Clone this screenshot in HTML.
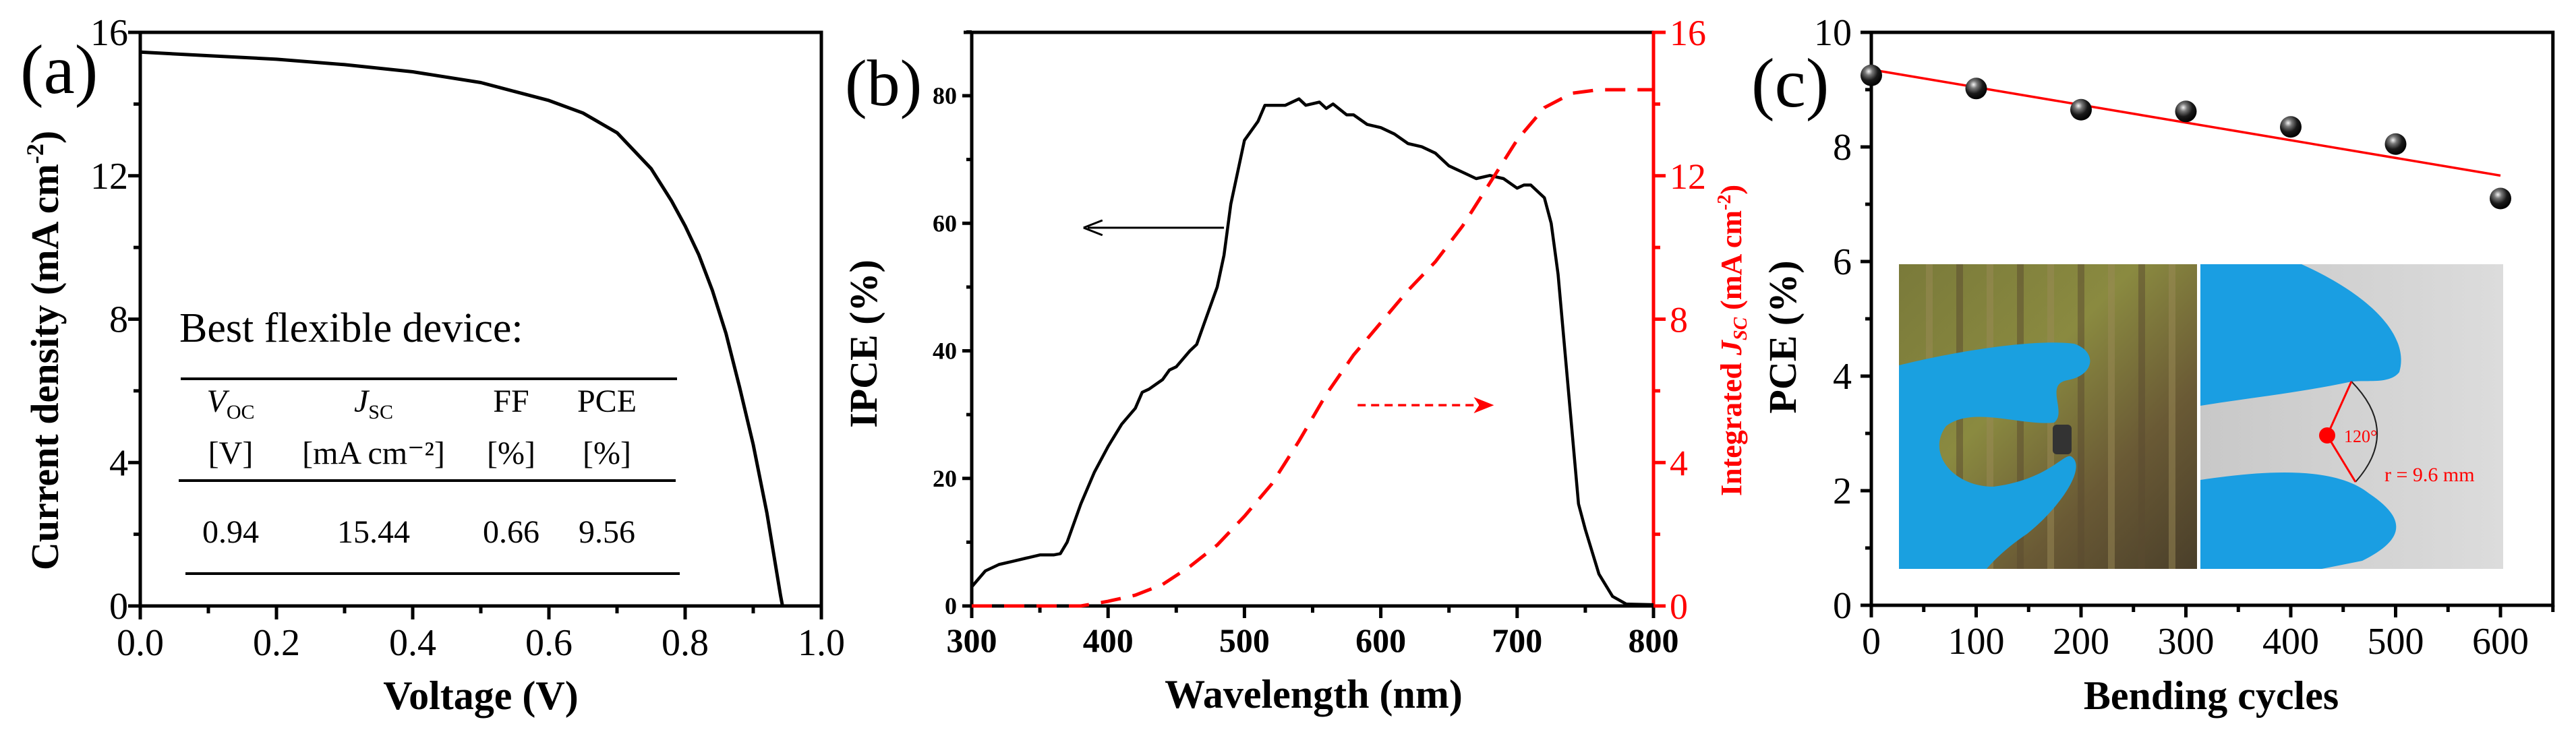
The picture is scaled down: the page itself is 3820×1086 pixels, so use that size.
<!DOCTYPE html>
<html><head><meta charset="utf-8"><style>
html,body{margin:0;padding:0;background:#fff;}
svg{display:block;}
svg text{font-family:"Liberation Serif","Times New Roman",serif;}
</style></head><body>
<svg id="fig" width="3820" height="1086" viewBox="0 0 3820 1086" font-family="Liberation Serif, serif">
<defs>
<radialGradient id="ball" cx="0.38" cy="0.32" r="0.7">
<stop offset="0" stop-color="#f4f4f4"/><stop offset="0.25" stop-color="#777"/><stop offset="0.6" stop-color="#1a1a1a"/><stop offset="1" stop-color="#000"/>
</radialGradient>
<linearGradient id="bamboo" x1="0" y1="0" x2="1" y2="1">
<stop offset="0" stop-color="#7a7a3a"/><stop offset="0.4" stop-color="#8a8a40"/><stop offset="0.7" stop-color="#6a5a35"/><stop offset="1" stop-color="#4a3f2a"/>
</linearGradient>
<linearGradient id="grey" x1="0" y1="0" x2="1" y2="0">
<stop offset="0" stop-color="#c8c8c8"/><stop offset="1" stop-color="#dcdcdc"/>
</linearGradient>
</defs>
<g id="pa"></g>
<g id="pb"></g>
<g id="pc"></g>
</svg>
<script>
// ---------- data ----------
const jvVoltage = [0,0.1,0.2,0.3,0.4,0.5,0.55,0.6,0.65,0.7,0.75,0.78,0.8,0.82,0.84,0.86,0.88,0.9,0.92,0.94,0.943];
const jvCurrent = [15.45,15.35,15.25,15.1,14.9,14.6,14.35,14.1,13.75,13.2,12.2,11.3,10.6,9.8,8.8,7.6,6.1,4.5,2.6,0.3,0];
const aXTicks = ["0.0","0.2","0.4","0.6","0.8","1.0"];
const aYTicks = ["0","4","8","12","16"];
const tableHeads = ["V","J","FF","PCE"];
const tableUnits = ["[V]","[mA cm⁻²]","[%]","[%]"];
const tableValues = ["0.94","15.44","0.66","9.56"];

const wl = [300,310,320,330,340,350,360,365,370,380,390,400,410,420,425,430,440,445,450,460,465,470,480,485,490,500,510,515,525,530,540,545,555,560,565,575,580,590,600,610,620,630,640,650,660,670,680,690,700,705,710,720,725,730,735,740,745,750,760,770,780,800];
const ipce = [3,5.5,6.5,7,7.5,8,8,8.2,10,16,21,25,28.5,31,33.5,34,35.5,37,37.5,40,41,44,50,55,63,73,76,78.5,78.5,78.5,79.5,78.5,79,78,78.7,77,77,75.5,75,74,72.5,72,71,69,68,67,67.5,67,65.5,66,66,64,60,52,40,28,16,12,5,1.5,0.3,0.2];
const intWl = [300,380,400,420,440,460,480,500,520,540,560,580,600,620,640,660,680,700,720,740,760,800];
const intJsc = [0,0,0.13,0.3,0.6,1.1,1.7,2.5,3.4,4.6,5.9,7.0,7.9,8.8,9.6,10.6,11.8,13.0,13.9,14.3,14.4,14.4];
const bXTicks = ["300","400","500","600","700","800"];
const bYTicks = ["0","20","40","60","80"];
const bRTicks = ["0","4","8","12","16"];

const cycles = [0,100,200,300,400,500,600];
const pce = [9.25,9.02,8.65,8.62,8.35,8.05,7.1];
const fitStart = 9.35, fitEnd = 7.5;
const cXTicks = ["0","100","200","300","400","500","600"];
const cYTicks = ["0","2","4","6","8","10"];

// ---------- helpers ----------
const NS="http://www.w3.org/2000/svg";
function mk(parent,tag,attrs,text){const e=document.createElementNS(NS,tag);for(const k in attrs)e.setAttribute(k,attrs[k]);if(text!==undefined)e.textContent=text;parent.appendChild(e);return e;}
function lin(d0,d1,r0,r1){return v=>r0+(v-d0)*(r1-r0)/(d1-d0);}
function path(xs,ys,fx,fy){return xs.map((x,i)=>(i?'L':'M')+fx(x).toFixed(1)+' '+fy(ys[i]).toFixed(1)).join(' ');}

// ---------- panel a ----------
(function(){
const g=document.getElementById('pa');
const L=208,R=1218,T=48,B=899;
const fx=lin(0,1,L,R), fy=lin(0,16,B,T);
let e=mk(g,'rect',{x:L,y:T,width:R-L,height:B-T,fill:'none',stroke:'#000','stroke-width':5});

aXTicks.forEach((t,i)=>{const v=i*0.2,x=fx(v);
 mk(g,'line',{x1:x,y1:B,x2:x,y2:B+20,stroke:'#000','stroke-width':5});
 if(i<5){const xm=fx(v+0.1);mk(g,'line',{x1:xm,y1:B,x2:xm,y2:B+11,stroke:'#000','stroke-width':5});}
 e=mk(g,'text',{x:x,y:972,'font-size':56,'text-anchor':'middle'},t);
 });
aYTicks.forEach((t,i)=>{const v=i*4,y=fy(v);
 mk(g,'line',{x1:L-18,y1:y,x2:L,y2:y,stroke:'#000','stroke-width':5});
 if(i<4){const ym=fy(v+2);mk(g,'line',{x1:L-10,y1:ym,x2:L,y2:ym,stroke:'#000','stroke-width':5});}
 e=mk(g,'text',{x:190,y:y+19,'font-size':56,'text-anchor':'end'},t);
 });
e=mk(g,'path',{d:path(jvVoltage,jvCurrent,fx,fy),fill:'none',stroke:'#000','stroke-width':5,'stroke-linejoin':'round'});

e=mk(g,'text',{x:713,y:1052,'font-size':60,'font-weight':'bold','text-anchor':'middle'},'Voltage (V)');

e=mk(g,'text',{x:0,y:0,'font-size':58,'font-weight':'bold','text-anchor':'middle',transform:'translate(86,520) rotate(-90)'});
e.innerHTML='Current density (mA cm<tspan font-size="36" dy="-22">-2</tspan><tspan dy="22">)</tspan>';

e=mk(g,'text',{x:30,y:138,'font-size':104},'(a)');

e=mk(g,'text',{x:266,y:507,'font-size':62},'Best flexible device:');

[[268,1004,562],[265,1002,713],[275,1008,851]].forEach(l=>{mk(g,'line',{x1:l[0],y1:l[2],x2:l[1],y2:l[2],stroke:'#000','stroke-width':4});});
const cx=[342,554,758,900];
const h0=mk(g,'text',{x:cx[0],y:611,'font-size':48,'text-anchor':'middle'});h0.innerHTML='<tspan font-style="italic">V</tspan><tspan font-size="30" dy="10">OC</tspan>';

const h1=mk(g,'text',{x:cx[1],y:611,'font-size':48,'text-anchor':'middle'});h1.innerHTML='<tspan font-style="italic">J</tspan><tspan font-size="30" dy="10">SC</tspan>';

[2,3].forEach(i=>{e=mk(g,'text',{x:cx[i],y:611,'font-size':48,'text-anchor':'middle'},tableHeads[i]);});
tableUnits.forEach((u,i)=>{e=mk(g,'text',{x:cx[i],y:688,'font-size':48,'text-anchor':'middle'},u);});
tableValues.forEach((u,i)=>{e=mk(g,'text',{x:cx[i],y:805,'font-size':48,'text-anchor':'middle'},u);});
})();

// ---------- panel b ----------
(function(){
const g=document.getElementById('pb');
const L=1441,R=2452,T=48,B=899;
const fx=lin(300,800,L,R), fy=lin(0,80,B,142), fr=lin(0,16,B,T);
let e;
mk(g,'line',{x1:L,y1:T,x2:R,y2:T,stroke:'#000','stroke-width':5});
mk(g,'line',{x1:L,y1:B,x2:R,y2:B,stroke:'#000','stroke-width':5});
e=mk(g,'line',{x1:L,y1:T-2,x2:L,y2:B+2,stroke:'#000','stroke-width':5});
e=mk(g,'line',{x1:R,y1:T-2,x2:R,y2:B+2,stroke:'#f00','stroke-width':5});
mk(g,'line',{x1:L-12,y1:T,x2:L,y2:T,stroke:'#000','stroke-width':5});
bXTicks.forEach((t,i)=>{const v=300+i*100,x=fx(v);
 mk(g,'line',{x1:x,y1:B,x2:x,y2:B+18,stroke:'#000','stroke-width':5});
 if(i<5){const xm=fx(v+50);mk(g,'line',{x1:xm,y1:B,x2:xm,y2:B+10,stroke:'#000','stroke-width':5});}
 e=mk(g,'text',{x:x,y:967,'font-size':50,'font-weight':'bold','text-anchor':'middle'},t);
 });
bYTicks.forEach((t,i)=>{const v=i*20,y=fy(v);
 mk(g,'line',{x1:L-14,y1:y,x2:L,y2:y,stroke:'#000','stroke-width':5});
 const ym=fy(v+10);mk(g,'line',{x1:L-8,y1:ym,x2:L,y2:ym,stroke:'#000','stroke-width':5});
 e=mk(g,'text',{x:L-22,y:y+12,'font-size':36,'font-weight':'bold','text-anchor':'end'},t);
 });
bRTicks.forEach((t,i)=>{const v=i*4,y=fr(v);
 mk(g,'line',{x1:R,y1:y,x2:R+18,y2:y,stroke:'#f00','stroke-width':5});
 if(i<4){const ym=fr(v+2);mk(g,'line',{x1:R,y1:ym,x2:R+10,y2:ym,stroke:'#f00','stroke-width':5});}
 e=mk(g,'text',{x:R+24,y:y+19,'font-size':54,fill:'#f00'},t);
 });
e=mk(g,'path',{d:path(wl,ipce,fx,fy),fill:'none',stroke:'#000','stroke-width':4.5,'stroke-linejoin':'round'});

e=mk(g,'path',{d:path(intWl,intJsc,fx,fr),fill:'none',stroke:'#f00','stroke-width':5,'stroke-dasharray':'30 18'});

const ay=fy(59.3);
e=mk(g,'line',{x1:fx(485),y1:ay,x2:fx(385),y2:ay,stroke:'#000','stroke-width':3});
mk(g,'path',{d:`M${fx(382)} ${ay} L${fx(382)+28} ${ay-11} M${fx(382)} ${ay} L${fx(382)+28} ${ay+11}`,stroke:'#000','stroke-width':3,fill:'none'});
const ry=fr(5.6);
e=mk(g,'line',{x1:fx(583),y1:ry,x2:fx(675),y2:ry,stroke:'#f00','stroke-width':3.5,'stroke-dasharray':'12 8'});
mk(g,'path',{d:`M${fx(683)} ${ry} L${fx(683)-30} ${ry-12} L${fx(683)-22} ${ry} L${fx(683)-30} ${ry+12} Z`,fill:'#f00'});
e=mk(g,'text',{x:1948,y:1050,'font-size':60,'font-weight':'bold','text-anchor':'middle'},'Wavelength (nm)');

e=mk(g,'text',{x:0,y:0,'font-size':58,'font-weight':'bold','text-anchor':'middle',transform:'translate(1300,510) rotate(-90)'},'IPCE (%)');

e=mk(g,'text',{x:0,y:0,'font-size':44,'font-weight':'bold','text-anchor':'middle',fill:'#f00',transform:'translate(2582,505) rotate(-90)'});
e.innerHTML='Integrated <tspan font-style="italic">J</tspan><tspan font-size="28" dy="8" font-style="italic">SC</tspan><tspan dy="-8"> (mA cm</tspan><tspan font-size="28" dy="-16">-2</tspan><tspan dy="16">)</tspan>';

e=mk(g,'text',{x:1253,y:156,'font-size':98},'(b)');

})();

// ---------- panel c ----------
(function(){
const g=document.getElementById('pc');
const L=2775,T=48,B=898;
const fx=lin(0,600,L,3708), fy=lin(0,10,B,T), R=fx(650);
let e=mk(g,'rect',{x:L,y:T,width:R-L,height:B-T,fill:'none',stroke:'#000','stroke-width':5});

cXTicks.forEach((t,i)=>{const v=i*100,x=fx(v);
 mk(g,'line',{x1:x,y1:B,x2:x,y2:B+18,stroke:'#000','stroke-width':5});
 const xm=fx(v+50);mk(g,'line',{x1:xm,y1:B,x2:xm,y2:B+10,stroke:'#000','stroke-width':5});
 e=mk(g,'text',{x:x,y:970,'font-size':56,'text-anchor':'middle'},t);
 });
cYTicks.forEach((t,i)=>{const v=i*2,y=fy(v);
 mk(g,'line',{x1:L-16,y1:y,x2:L,y2:y,stroke:'#000','stroke-width':5});
 if(i<5){const ym=fy(v+1);mk(g,'line',{x1:L-9,y1:ym,x2:L,y2:ym,stroke:'#000','stroke-width':5});}
 e=mk(g,'text',{x:2746,y:y+19,'font-size':56,'text-anchor':'end'},t);
 });
const P1x=2816,P2x=3263,Py=392,Ph=452;
e=mk(g,'g',{});
mk(e,'rect',{x:P1x,y:Py,width:442,height:Ph,fill:'url(#bamboo)'});
for(let k=0;k<9;k++){mk(e,'rect',{x:P1x+40+k*45,y:Py,width:10,height:Ph,fill:k%2?'#5a4a30':'#9a8a55',opacity:0.5});}
mk(e,'path',{d:`M${P1x} ${Py+150} C${P1x+80} ${Py+130} ${P1x+200} ${Py+110} ${P1x+260} ${Py+118} C${P1x+295} ${Py+130} ${P1x+290} ${Py+165} ${P1x+250} ${Py+172} C${P1x+215} ${Py+178} ${P1x+250} ${Py+220} ${P1x+230} ${Py+235} C${P1x+180} ${Py+240} ${P1x+110} ${Py+210} ${P1x+70} ${Py+240} C${P1x+40} ${Py+280} ${P1x+80} ${Py+330} ${P1x+140} ${Py+330} C${P1x+220} ${Py+320} ${P1x+245} ${Py+280} ${P1x+255} ${Py+285} C${P1x+280} ${Py+300} ${P1x+240} ${Py+360} ${P1x+190} ${Py+400} C${P1x+160} ${Py+420} ${P1x+140} ${Py+440} ${P1x+130} ${Py+452} L${P1x} ${Py+452} Z`,fill:'#1aa0e0'});
mk(e,'rect',{x:P1x+228,y:Py+238,width:28,height:44,rx:6,fill:'#333'});
e=mk(g,'g',{});
mk(e,'rect',{x:P2x,y:Py,width:449,height:Ph,fill:'url(#grey)'});
mk(e,'path',{d:`M${P2x} ${Py} L${P2x+150} ${Py} C${P2x+260} ${Py+50} ${P2x+310} ${Py+110} ${P2x+295} ${Py+160} C${P2x+280} ${Py+180} ${P2x+240} ${Py+170} ${P2x+220} ${Py+175} C${P2x+150} ${Py+190} ${P2x+60} ${Py+200} ${P2x} ${Py+210} Z`,fill:'#1a9ee2'});
mk(e,'path',{d:`M${P2x} ${Py+320} C${P2x+100} ${Py+305} ${P2x+200} ${Py+300} ${P2x+250} ${Py+340} C${P2x+310} ${Py+380} ${P2x+300} ${Py+410} ${P2x+240} ${Py+440} L${P2x+180} ${Py+452} L${P2x} ${Py+452} Z`,fill:'#1a9ee2'});
mk(e,'path',{d:`M3487 566 Q3560 640 3493 715`,fill:'none',stroke:'#222','stroke-width':2});
mk(e,'path',{d:`M3487 566 L3451 646 L3493 715`,fill:'none',stroke:'#f00','stroke-width':3});
mk(e,'circle',{cx:3451,cy:646,r:12,fill:'#f00'});
let tt=mk(e,'text',{x:3476,y:656,'font-size':26,fill:'#f00'},'120°');

tt=mk(e,'text',{x:3536,y:714,'font-size':30,fill:'#f00'},'r = 9.6 mm');

e=mk(g,'line',{x1:fx(0),y1:fy(fitStart),x2:fx(600),y2:fy(fitEnd),stroke:'#f00','stroke-width':3.5});

cycles.forEach((c,i)=>{const p=mk(g,'circle',{cx:fx(c),cy:fy(pce[i]),r:16,fill:'url(#ball)'});
 
 });
e=mk(g,'text',{x:3279,y:1052,'font-size':60,'font-weight':'bold','text-anchor':'middle'},'Bending cycles');

e=mk(g,'text',{x:0,y:0,'font-size':58,'font-weight':'bold','text-anchor':'middle',transform:'translate(2663,500) rotate(-90)'},'PCE (%)');

e=mk(g,'text',{x:2597,y:158,'font-size':104},'(c)');

})();
</script>
</body></html>
